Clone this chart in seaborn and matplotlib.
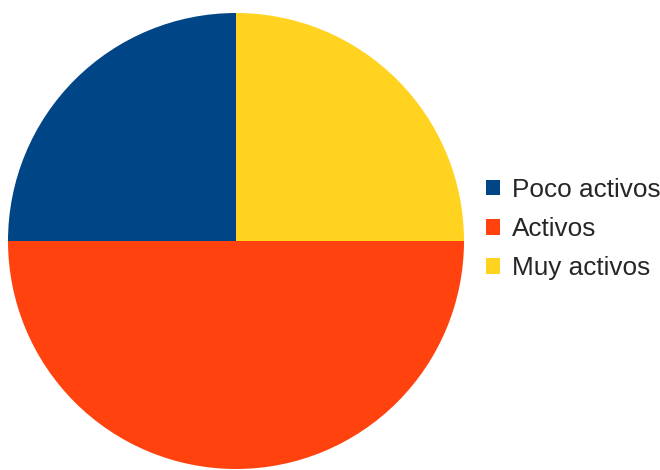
import matplotlib
matplotlib.use("Agg")
import matplotlib.pyplot as plt
import seaborn as sns

# Activity level breakdown
categories = ["Poco activos", "Activos", "Muy activos"]
shares = [25, 50, 25]
colors = ["#004586", "#ff420e", "#ffd320"]

sns.set_theme(style="white")
plt.rcParams["font.family"] = ["Liberation Sans", "DejaVu Sans"]

fig = plt.figure(figsize=(6.6, 4.7), dpi=100)
fig.patch.set_facecolor("white")

# Pie occupies a square region on the left side
ax = fig.add_axes([8 / 660, 1 / 470, 456 / 660, 456 / 470])
palette = sns.color_palette(colors)
wedges, _ = ax.pie(
    shares,
    colors=palette,
    startangle=90,
    counterclock=True,
    radius=1.0,
    wedgeprops=dict(linewidth=0, antialiased=True),
)
ax.set_xlim(-1, 1)
ax.set_ylim(-1, 1)
ax.set_aspect("equal")
ax.axis("off")

fig.legend(
    wedges,
    categories,
    loc="center left",
    bbox_to_anchor=(486 / 660, 1 - 229 / 470),
    frameon=False,
    fontsize=18.8,
    handlelength=0.55,
    handleheight=0.55,
    handletextpad=0.45,
    labelspacing=0.58,
    borderaxespad=0,
    borderpad=0,
)

fig.savefig("out.png", dpi=100, facecolor="white")
